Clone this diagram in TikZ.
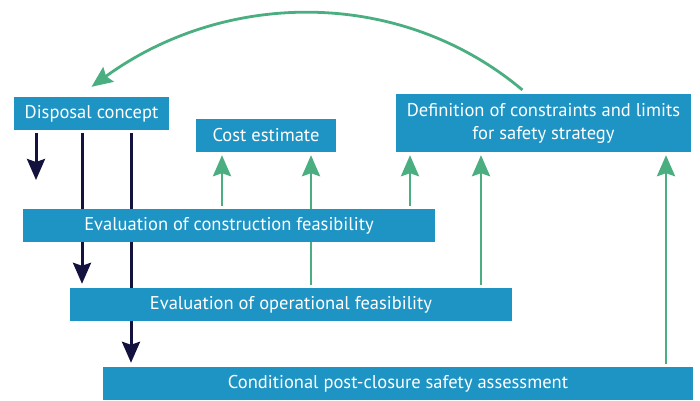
\documentclass[tikz,border=0pt]{standalone}
\usepackage{fontspec}
\setmainfont{PT Sans}
\usetikzlibrary{arrows.meta, backgrounds}
\definecolor{boxblue}{HTML}{1E94C4}
\definecolor{loopgreen}{HTML}{4AAE80}
\definecolor{flownavy}{HTML}{13123E}

\begin{document}
\begin{tikzpicture}[x=1pt, y=1pt,
    stagebox/.style={rectangle, fill=boxblue, text=white, inner sep=0pt,
                     minimum height=33pt, align=center,
                     font=\fontsize{18.5}{23}\selectfont},
    flowdown/.style={flownavy, line width=3pt, shorten <=3pt,
                     -{Stealth[length=21pt, width=18pt, inset=3pt]}},
    feedup/.style={loopgreen, line width=2.8pt, shorten <=3pt, shorten >=3pt,
                   -{Stealth[length=21pt, width=18pt, inset=3pt]}},
]
    \useasboundingbox (0,0) rectangle (700,400);

    % Stages
    \node[stagebox, minimum width=155pt] (disp) at (91.5,286.5) {Disposal concept};
    \node[stagebox, minimum width=140pt] (cost) at (266,264.5) {Cost estimate};
    \node[stagebox, minimum width=295pt, minimum height=58pt] (defn) at (543.5,277)
        {Definition of constraints and limits\\for safety strategy};
    \node[stagebox, minimum width=412pt] (constr) at (229,174.5)
        {Evaluation of construction feasibility};
    \node[stagebox, minimum width=442pt] (oper) at (291,95.5)
        {Evaluation of operational feasibility};
    \node[stagebox, minimum width=590pt] (cond) at (398,16.5)
        {Conditional post-closure safety assessment};

    % Columns of the vertical connectors
    \coordinate (colA) at (36,0);
    \coordinate (colB) at (82,0);
    \coordinate (colC) at (131,0);
    \coordinate (up1) at (222,0);
    \coordinate (up2) at (311,0);
    \coordinate (up3) at (410,0);
    \coordinate (up4) at (481,0);
    \coordinate (up5) at (666,0);
    \coordinate (stub) at (36,220);

    % Connectors behind the boxes
    \begin{scope}[on background layer]
        \draw[flowdown] (disp.south -| colA) -- (stub);
        \draw[flowdown, shorten >=4pt] (disp.south -| colB) -- (oper.north -| colB);
        \draw[flowdown, shorten >=4pt] (disp.south -| colC) -- (cond.north -| colC);

        \draw[feedup] (constr.north -| up1) -- (cost.south -| up1);
        \draw[feedup] (oper.north -| up2) -- (cost.south -| up2);
        \draw[feedup] (constr.north -| up3) -- (defn.south -| up3);
        \draw[feedup] (oper.north -| up4) -- (defn.south -| up4);
        \draw[feedup] (cond.north -| up5) -- (defn.south -| up5);
    \end{scope}

    % Feedback loop
    \draw[feedup, shorten <=6pt, shorten >=0pt]
        ([xshift=-16.5pt]defn.north) to[out=140, in=36, looseness=0.97]
        ([yshift=10pt]disp.north);
\end{tikzpicture}
\end{document}
